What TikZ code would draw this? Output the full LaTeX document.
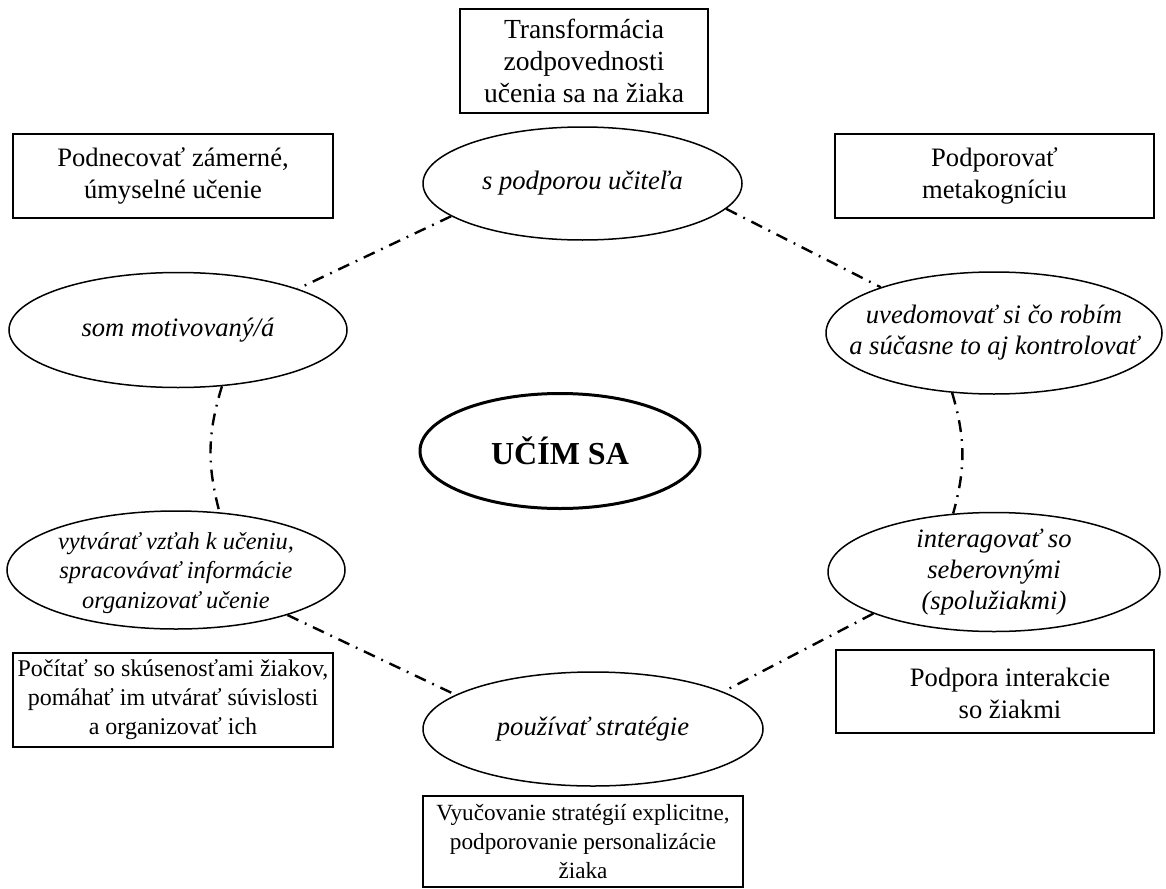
\documentclass[tikz,border=0pt]{standalone}
\usepackage{fontspec}
\setmainfont{Liberation Serif}
\usetikzlibrary{shapes.geometric}
\begin{document}
\begin{tikzpicture}[x=0.5pt,y=-0.5pt,
  box/.style={draw, line width=0.8pt, rectangle, inner sep=0pt},
  ell/.style={draw, line width=0.75pt, ellipse, inner sep=0pt},
  txt/.style={align=center, font=\fontsize{13.3}{16}\selectfont, inner sep=0pt},
  stxt/.style={align=center, font=\fontsize{12}{14.5}\selectfont, inner sep=0pt},
  itxt/.style={align=center, font=\fontsize{13.3}{15.5}\selectfont\itshape, inner sep=0pt},
  conn/.style={line width=1.2pt, dash pattern=on 6pt off 3.6pt on 0.9pt off 3.6pt}]
\useasboundingbox (0,0) rectangle (1166,888);
% boxes
\node[box, minimum width=124pt, minimum height=52pt] (b1) at (584,61) {};
\node[txt, font=\fontsize{13.8}{16}\selectfont] (b1t) at (b1) {Transformácia\\zodpovednosti\\učenia sa na žiaka};
\node[box, minimum width=160pt, minimum height=42pt] (b2) at (173,176) {};
\node[txt] (b2t) at (b2) {Podnecovať zámerné,\\úmyselné učenie};
\node[box, minimum width=159.5pt, minimum height=42pt] (b3) at (994.5,176) {};
\node[txt] (b3t) at (b3) {Podporovať\\metakogníciu};
\node[box, minimum width=160pt, minimum height=47pt] (b4) at (173,700) {};
\node[stxt] (b4t) at (b4) {Počítať so skúsenosťami žiakov,\\pomáhať im utvárať súvislosti\\a organizovať ich};
\node[box, minimum width=159pt, minimum height=41.5pt] (b5) at (995,691.5) {};
\node[txt] (b5t) at (1010,693) {Podpora interakcie\\so žiakmi};
\node[box, minimum width=160pt, minimum height=45.5pt] (b6) at (583,841.5) {};
\node[stxt, font=\fontsize{11.6}{14.5}\selectfont] (b6t) at (b6) {Vyučovanie stratégií explicitne,\\podporovanie personalizácie\\žiaka};
% ellipses
\node[ell, minimum width=159.5pt, minimum height=56.5pt] (e1) at (582.5,183.5) {};
\node[itxt] (e1t) at (e1) {s podporou učiteľa};
\node[ell, minimum width=169pt, minimum height=57.5pt] (e2) at (178,330) {};
\node[itxt] (e2t) at (e2) {som motivovaný/á};
\node[ell, minimum width=168pt, minimum height=61pt] (e3) at (994,333) {};
\node[itxt] (e3t) at (e3) {uvedomovať si čo robím\\a súčasne to aj kontrolovať};
\node[ell, line width=1.5pt, minimum width=140pt, minimum height=57.5pt] (e0) at (560,451) {};
\node[inner sep=0pt, font=\fontsize{16}{19}\selectfont\bfseries] (e0t) at (e0) {UČÍM SA};
\node[ell, minimum width=169pt, minimum height=59pt] (e4) at (176,570) {};
\node[itxt, font=\fontsize{12.2}{14.6}\selectfont\itshape] (e4t) at (176,573) {vytvárať vzťah k učeniu,\\spracovávať informácie\\organizovať učenie};
\node[ell, minimum width=166pt, minimum height=59.5pt] (e5) at (994,572) {};
\node[itxt] (e5t) at (e5) {interagovať so\\seberovnými\\(spolužiakmi)};
\node[ell, minimum width=170pt, minimum height=57pt] (e6) at (593,729) {};
\node[itxt] (e6t) at (e6) {používať stratégie};
% connectors
\draw[conn] (e1.194) -- (e2.19);
\draw[conn] (e1.350) -- (e3.158);
\draw[conn] (e2.308) to[bend right=16] (e4.53);
\draw[conn] (e3.235) to[bend left=16] (e5.125);
\draw[conn] (e4.338) -- (e6.166);
\draw[conn] (e5.199) -- (e6.16);
\end{tikzpicture}
\end{document}
